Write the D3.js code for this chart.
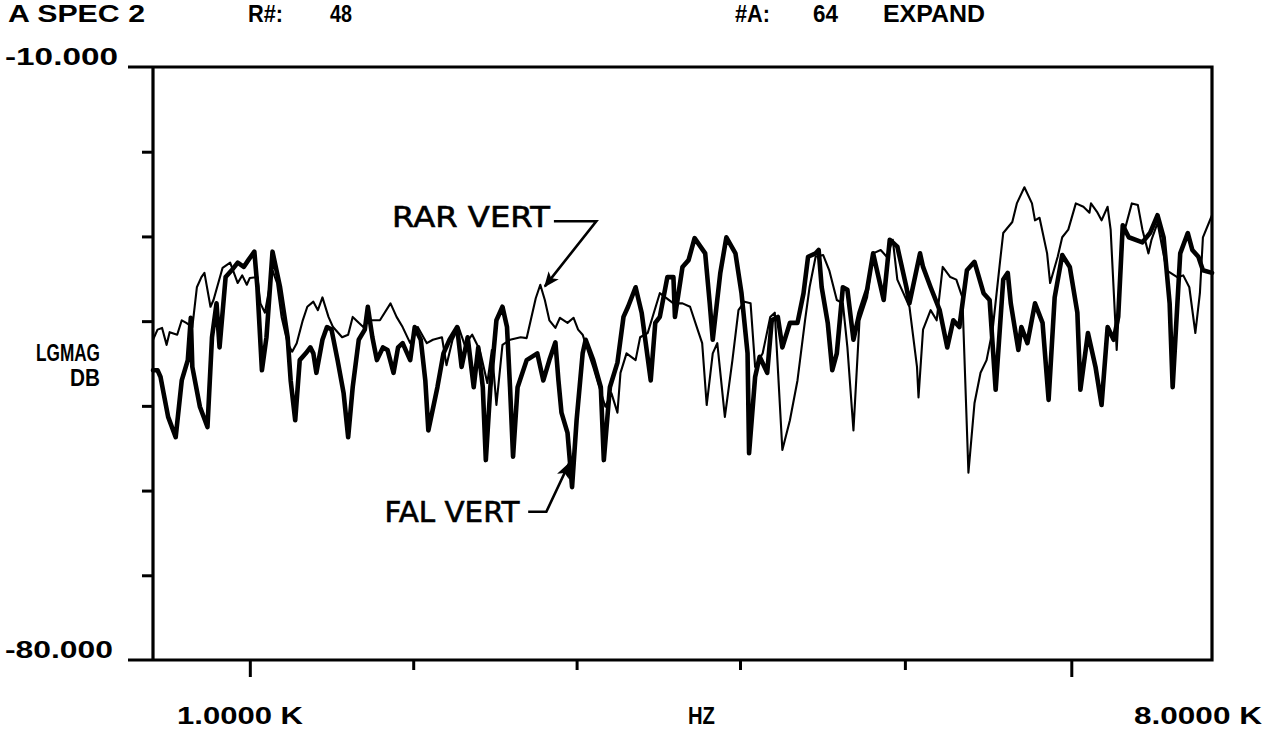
<!DOCTYPE html>
<html>
<head>
<meta charset="utf-8">
<script src="https://cdn.jsdelivr.net/npm/d3@7"></script>
<style>
  html, body { margin: 0; padding: 0; background: #fff; }
  svg { display: block; }
  text { fill: #000; }
  .hdr { font-family: "Liberation Sans", Arial, sans-serif; font-weight: bold; font-size: 23px; }
  .note { font-family: "DejaVu Sans", sans-serif; font-size: 29px; stroke: #000; stroke-width: 0.6px; }
</style>
</head>
<body>
<svg width="1278" height="737"></svg>
<script>
// header / axis texts
const header = [
  { text: 'A SPEC 2', x: 8, len: 137 },
  { text: 'R#:', x: 248, len: 35 },
  { text: '48', x: 330, len: 22 },
  { text: '#A:', x: 735, len: 35 },
  { text: '64', x: 813, len: 25 },
  { text: 'EXPAND', x: 883, len: 102 }
];
const yLabels = ['-10.000', '-80.000'];
const xLabels = ['1.0000 K', 'HZ', '8.0000 K'];

// scale ranges (start / stop of the analyzer)
const freqRange = [1, 8];      // kHz
const dbRange = [-80, -10];    // LGMAG dB
const yTicks = [-70, -60, -50, -40, -30, -20];
const xTicksMajor = [1.64, 7.07];
const xTicksMinor = [2.72, 3.80, 4.88, 5.97];

// FAL VERT (heavy trace) [kHz, dB]
const falVert = [
  [1.00,-45.8],[1.03,-45.8],[1.05,-46.6],[1.07,-48.5],[1.10,-51.3],[1.15,-53.7],[1.19,-47.0],[1.23,-44.6],
  [1.25,-39.6],[1.26,-45.4],[1.31,-50.1],[1.36,-52.5],[1.39,-41.9],[1.42,-37.9],[1.44,-43.1],[1.48,-34.8],
  [1.52,-34.0],[1.56,-33.1],[1.60,-33.6],[1.63,-32.8],[1.67,-31.8],[1.69,-36.0],[1.72,-45.8],[1.75,-41.9],
  [1.79,-31.8],[1.84,-36.0],[1.89,-41.9],[1.91,-47.0],[1.94,-51.7],[1.97,-44.6],[2.01,-43.8],[2.04,-43.1],
  [2.06,-43.8],[2.08,-46.1],[2.12,-42.2],[2.15,-40.7],[2.18,-41.0],[2.22,-44.6],[2.26,-48.5],[2.29,-53.7],
  [2.32,-47.8],[2.36,-42.2],[2.40,-41.0],[2.42,-38.3],[2.45,-41.9],[2.48,-44.6],[2.52,-43.1],[2.55,-43.4],
  [2.59,-46.1],[2.62,-43.1],[2.65,-42.6],[2.70,-44.6],[2.73,-40.7],[2.77,-42.2],[2.80,-47.0],[2.82,-52.9],
  [2.88,-47.8],[2.92,-43.8],[2.96,-42.2],[3.01,-40.7],[3.04,-45.4],[3.08,-41.9],[3.12,-47.8],[3.15,-43.1],
  [3.18,-47.8],[3.20,-56.4],[3.23,-47.8],[3.27,-39.9],[3.31,-38.3],[3.34,-40.7],[3.36,-47.8],[3.38,-56.0],
  [3.41,-47.8],[3.47,-44.6],[3.54,-43.8],[3.58,-47.0],[3.62,-44.6],[3.66,-42.5],[3.68,-47.0],[3.70,-50.8],
  [3.74,-53.2],[3.77,-59.6],[3.80,-51.7],[3.84,-43.8],[3.86,-42.2],[3.91,-44.6],[3.96,-47.8],[3.98,-56.4],
  [4.02,-47.8],[4.07,-44.9],[4.11,-39.5],[4.14,-38.3],[4.19,-36.0],[4.23,-39.0],[4.29,-47.0],[4.32,-40.2],
  [4.35,-39.5],[4.40,-34.8],[4.44,-34.8],[4.45,-39.5],[4.50,-33.6],[4.54,-32.8],[4.58,-30.2],[4.65,-32.0],
  [4.68,-37.9],[4.70,-42.2],[4.75,-34.3],[4.79,-30.1],[4.85,-32.0],[4.89,-36.7],[4.93,-43.8],[4.94,-55.6],
  [4.98,-46.6],[5.01,-44.2],[5.06,-46.1],[5.09,-39.9],[5.13,-39.5],[5.16,-43.1],[5.21,-40.2],[5.26,-40.2],
  [5.30,-36.7],[5.33,-32.4],[5.38,-32.0],[5.40,-31.6],[5.42,-36.0],[5.46,-40.2],[5.49,-45.8],[5.52,-43.8],
  [5.56,-36.0],[5.59,-36.3],[5.63,-42.2],[5.67,-39.0],[5.72,-36.3],[5.76,-32.0],[5.83,-37.5],[5.87,-30.4],
  [5.92,-31.2],[5.98,-36.0],[6.00,-37.9],[6.07,-32.0],[6.09,-33.6],[6.14,-36.0],[6.20,-38.7],[6.25,-43.1],
  [6.29,-39.9],[6.33,-40.7],[6.38,-34.0],[6.43,-33.0],[6.49,-36.7],[6.53,-37.5],[6.57,-48.1],[6.62,-35.1],
  [6.65,-34.3],[6.67,-37.9],[6.72,-43.4],[6.74,-40.7],[6.78,-42.6],[6.83,-37.9],[6.88,-40.2],[6.92,-49.3],
  [6.96,-37.2],[7.01,-32.2],[7.06,-33.6],[7.11,-39.0],[7.13,-48.1],[7.18,-41.4],[7.23,-45.4],[7.27,-49.9],
  [7.31,-40.7],[7.35,-42.2],[7.38,-39.5],[7.41,-28.7],[7.45,-30.1],[7.54,-30.7],[7.59,-29.6],[7.64,-27.5],
  [7.68,-30.1],[7.72,-37.9],[7.74,-47.8],[7.79,-32.0],[7.84,-29.6],[7.87,-31.6],[7.91,-32.4],[7.94,-34.0],
  [8.00,-34.3]
];

// RAR VERT (light trace) [kHz, dB]
const rarVert = [
  [1.00,-42.2],[1.03,-41.0],[1.06,-40.8],[1.09,-42.8],[1.11,-41.3],[1.16,-41.6],[1.19,-39.9],[1.22,-40.2],
  [1.26,-40.7],[1.29,-36.0],[1.32,-34.8],[1.34,-34.3],[1.38,-38.3],[1.40,-37.5],[1.46,-33.7],[1.51,-33.1],
  [1.56,-35.5],[1.59,-34.6],[1.62,-35.7],[1.64,-34.9],[1.69,-34.8],[1.71,-37.9],[1.74,-39.0],[1.79,-34.0],
  [1.82,-35.5],[1.85,-39.5],[1.89,-42.6],[1.92,-43.6],[1.95,-42.6],[1.99,-39.9],[2.02,-38.3],[2.06,-37.7],
  [2.09,-38.7],[2.12,-37.2],[2.16,-39.5],[2.19,-40.7],[2.25,-41.9],[2.29,-41.6],[2.32,-39.5],[2.36,-40.2],
  [2.39,-40.7],[2.42,-39.9],[2.50,-39.9],[2.57,-37.9],[2.61,-39.5],[2.65,-40.7],[2.70,-42.6],[2.75,-40.7],
  [2.81,-42.6],[2.85,-42.2],[2.91,-41.9],[2.94,-45.2],[2.98,-42.2],[3.02,-40.7],[3.06,-42.8],[3.11,-41.6],
  [3.16,-43.4],[3.21,-47.3],[3.24,-43.4],[3.27,-49.9],[3.31,-42.8],[3.36,-42.2],[3.43,-41.9],[3.47,-42.0],
  [3.53,-37.3],[3.56,-35.7],[3.59,-37.5],[3.62,-39.9],[3.66,-40.8],[3.69,-39.6],[3.74,-40.2],[3.78,-39.6],
  [3.81,-41.0],[3.84,-41.6],[3.88,-43.8],[3.91,-45.4],[3.95,-47.8],[3.99,-50.1],[4.03,-48.5],[4.07,-50.8],
  [4.09,-46.1],[4.13,-43.8],[4.19,-44.6],[4.22,-41.9],[4.27,-41.4],[4.35,-36.7],[4.44,-37.9],[4.50,-37.9],
  [4.55,-38.3],[4.60,-41.0],[4.63,-42.6],[4.66,-49.9],[4.70,-43.8],[4.73,-42.6],[4.78,-51.3],[4.83,-44.6],
  [4.87,-38.7],[4.91,-37.7],[4.95,-37.9],[4.98,-45.4],[5.03,-43.8],[5.08,-39.5],[5.11,-39.0],[5.16,-55.2],
  [5.21,-51.7],[5.26,-47.0],[5.31,-39.9],[5.34,-36.0],[5.38,-32.4],[5.43,-32.2],[5.47,-34.0],[5.52,-37.5],
  [5.56,-37.9],[5.59,-43.1],[5.63,-52.9],[5.67,-39.9],[5.72,-37.2],[5.76,-32.0],[5.81,-31.6],[5.85,-32.4],
  [5.89,-30.4],[5.92,-35.1],[5.96,-36.7],[6.00,-38.3],[6.05,-45.4],[6.06,-49.0],[6.09,-41.0],[6.14,-38.7],
  [6.18,-39.9],[6.22,-33.6],[6.27,-34.8],[6.31,-35.1],[6.35,-37.2],[6.39,-57.9],[6.43,-49.7],[6.47,-46.1],
  [6.51,-44.6],[6.55,-41.0],[6.60,-32.8],[6.62,-29.6],[6.68,-28.3],[6.71,-26.1],[6.76,-24.2],[6.81,-26.1],
  [6.83,-28.1],[6.86,-27.8],[6.91,-32.0],[6.93,-35.5],[6.98,-32.4],[7.01,-30.1],[7.05,-29.2],[7.10,-26.1],
  [7.15,-26.5],[7.19,-27.2],[7.20,-26.1],[7.24,-27.1],[7.27,-28.1],[7.31,-26.5],[7.33,-29.2],[7.37,-43.4],
  [7.41,-30.1],[7.47,-26.1],[7.51,-26.3],[7.54,-29.2],[7.58,-32.0],[7.60,-30.4],[7.64,-28.4],[7.70,-34.0],
  [7.77,-34.8],[7.81,-34.6],[7.85,-36.0],[7.89,-41.4],[7.92,-36.7],[7.94,-30.1],[8.00,-27.5]
];

// annotation leaders, in [kHz, dB]
const rarNote = { label: 'RAR VERT', at: [2.58, -28.9], path: [[3.65, -28.2], [3.93, -28.2], [3.59, -35.9]] };
const falNote = { label: 'FAL VERT', at: [2.53, -63.7], path: [[3.48, -62.5], [3.60, -62.5], [3.75, -56.8]] };

const svg = d3.select('svg');
const margin = { top: 67, right: 66, bottom: 77, left: 153 };
const width = +svg.attr('width') - margin.left - margin.right;
const height = +svg.attr('height') - margin.top - margin.bottom;

const x = d3.scaleLinear().domain(freqRange).range([margin.left, margin.left + width]);
const y = d3.scaleLinear().domain(dbRange).range([margin.top + height, margin.top]);

svg.append('rect').attr('width', 1278).attr('height', 737).attr('fill', '#fff');

// arrow head
svg.append('defs').append('marker')
  .attr('id', 'arrow')
  .attr('viewBox', '0 0 12 10')
  .attr('refX', 11).attr('refY', 5)
  .attr('markerWidth', 6).attr('markerHeight', 5)
  .attr('markerUnits', 'strokeWidth')
  .attr('orient', 'auto')
  .append('path')
  .attr('d', 'M0,0 L12,5 L0,10 L3,5 Z')
  .attr('fill', '#000');

// header
svg.append('g').selectAll('text')
  .data(header)
  .join('text')
  .attr('class', 'hdr')
  .attr('x', d => d.x)
  .attr('y', 22)
  .attr('textLength', d => d.len)
  .attr('lengthAdjust', 'spacingAndGlyphs')
  .text(d => d.text);

// traces
const line = d3.line().x(d => x(d[0])).y(d => y(d[1]));

svg.append('path')
  .datum(rarVert)
  .attr('d', line)
  .attr('fill', 'none')
  .attr('stroke', '#000')
  .attr('stroke-width', 2.1)
  .attr('stroke-linejoin', 'round');

svg.append('path')
  .datum(falVert)
  .attr('d', line)
  .attr('fill', 'none')
  .attr('stroke', '#000')
  .attr('stroke-width', 4.6)
  .attr('stroke-linejoin', 'round')
  .attr('stroke-linecap', 'round');

// axes
const yAxis = svg.append('g')
  .attr('transform', `translate(${margin.left},0)`)
  .call(d3.axisLeft(y).tickValues(yTicks).tickSize(11).tickFormat(''));
const xMajor = svg.append('g')
  .attr('transform', `translate(0,${margin.top + height})`)
  .call(d3.axisBottom(x).tickValues(xTicksMajor).tickSize(17).tickFormat(''));
const xMinor = svg.append('g')
  .attr('transform', `translate(0,${margin.top + height})`)
  .call(d3.axisBottom(x).tickValues(xTicksMinor).tickSize(10).tickFormat(''));

[yAxis, xMajor, xMinor].forEach(g => {
  g.select('.domain').remove();
  g.selectAll('line').attr('stroke', '#000').attr('stroke-width', 3);
});

// frame, top and bottom lines run out under the scale labels
const x0 = x.range()[0], x1 = x.range()[1];
const yTop = y(dbRange[1]), yBot = y(dbRange[0]);
svg.append('path')
  .attr('d', `M${x0 - 25},${yTop} H${x1} V${yBot} H${x0 - 25} M${x0},${yTop} V${yBot}`)
  .attr('fill', 'none')
  .attr('stroke', '#000')
  .attr('stroke-width', 3.2);

// y scale labels
svg.append('text').attr('class', 'hdr')
  .attr('x', 5).attr('y', yTop - 2)
  .attr('textLength', 113).attr('lengthAdjust', 'spacingAndGlyphs')
  .text(yLabels[0]);
svg.append('text').attr('class', 'hdr')
  .attr('x', 5).attr('y', yBot - 2)
  .attr('textLength', 108).attr('lengthAdjust', 'spacingAndGlyphs')
  .text(yLabels[1]);

svg.append('text').attr('class', 'hdr')
  .attr('x', 100).attr('y', 361).attr('text-anchor', 'end')
  .attr('font-size', 19)
  .attr('textLength', 64).attr('lengthAdjust', 'spacingAndGlyphs')
  .text('LGMAG');
svg.append('text').attr('class', 'hdr')
  .attr('x', 100).attr('y', 386).attr('text-anchor', 'end')
  .attr('font-size', 19)
  .attr('textLength', 30).attr('lengthAdjust', 'spacingAndGlyphs')
  .text('DB');

// x scale labels
svg.append('text').attr('class', 'hdr')
  .attr('x', 177).attr('y', 724)
  .attr('font-size', 22)
  .attr('textLength', 126).attr('lengthAdjust', 'spacingAndGlyphs')
  .text(xLabels[0]);
svg.append('text').attr('class', 'hdr')
  .attr('x', 688).attr('y', 724)
  .attr('font-size', 22)
  .attr('textLength', 27).attr('lengthAdjust', 'spacingAndGlyphs')
  .text(xLabels[1]);
svg.append('text').attr('class', 'hdr')
  .attr('x', 1262).attr('y', 724).attr('text-anchor', 'end')
  .attr('font-size', 22)
  .attr('textLength', 128).attr('lengthAdjust', 'spacingAndGlyphs')
  .text(xLabels[2]);

// annotations
function note(n, len) {
  svg.append('text').attr('class', 'note')
    .attr('x', x(n.at[0])).attr('y', y(n.at[1]))
    .attr('textLength', len).attr('lengthAdjust', 'spacingAndGlyphs')
    .text(n.label);
  svg.append('path')
    .datum(n.path)
    .attr('d', line)
    .attr('fill', 'none')
    .attr('stroke', '#000')
    .attr('stroke-width', 2.6)
    .attr('marker-end', 'url(#arrow)');
}
note(rarNote, 158);
note(falNote, 135);
</script>
</body>
</html>
